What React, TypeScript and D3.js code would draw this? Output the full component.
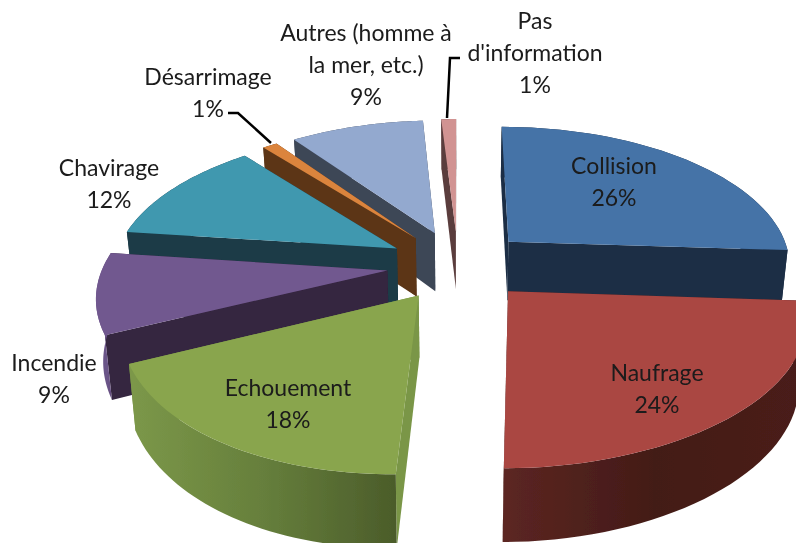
import React from "react";
import * as d3 from "d3";

const categories = ["Collision", "Naufrage", "Echouement", "Incendie", "Chavirage", "Désarrimage", "Autres (homme à la mer, etc.)", "Pas d'information"];
const values = [26, 24, 18, 9, 12, 1, 9, 1];
const topColors = ["#4573A7", "#AA4643", "#89A54E", "#71588F", "#4198AF", "#DB843D", "#93A9CF", "#D19392"];
const sideColors = ["#1C2E45", "#451D1A", "#7A9647", "#34253F", "#1A3A46", "#5B3618", "#3D4657", "#5A3C3C"];
const wallStops = [
  ["#1C2E45", "#1C2E45", "#1C2E45"],
  ["#5C2622", "#431B17", "#4A1E1A"],
  ["#7C9849", "#667F3C", "#4B5C2A"],
  ["#6B5488", "#6B5488", "#5A4674"],
  ["#1A3A46", "#1A3A46", "#1A3A46"],
  ["#5B3618", "#5B3618", "#5B3618"],
  ["#3D4657", "#3D4657", "#3D4657"],
  ["#5A3C3C", "#5A3C3C", "#5A3C3C"],
];
const paintOrder = [7, 6, 5, 4, 3, 2, 0, 1];
const labelLines = [
  ["Collision", "26%"],
  ["Naufrage", "24%"],
  ["Echouement", "18%"],
  ["Incendie", "9%"],
  ["Chavirage", "12%"],
  ["Désarrimage", "1%"],
  ["Autres (homme à", "la mer, etc.)", "9%"],
  ["Pas", "d'information", "1%"],
];
const labelAnchors = [[614, 165], [657, 372], [288, 387], [54, 362], [109, 167], [208, 76], [366, 32], [535, 20]];
const leaders = [
  [[228, 113], [238, 113], [271, 143]],
  [[460, 58], [450, 58], [447, 118]],
];

const W = 796, H = 543;
const X0 = 458, Y0 = 265, R = 284, A = 139.8, P = 0.158, DEPTH = 60, Z_SHRINK = 0.98, EXPLODE = 0.25, SHEAR = 0.00068, SHEAR_START = 60;
const FONT = "Lato, Carlito, sans-serif";

function project(wx: number, wy: number, low: boolean): [number, number] {
  const w = 1 - P * wy;
  const x = (R * wx) / w, y = (A * wy) / w;
  const skew = -SHEAR * Math.max(y - SHEAR_START, 0) ** 2;
  return low ? [X0 + x * Z_SHRINK + skew, Y0 + y + DEPTH / w] : [X0 + x + skew, Y0 + y];
}

const line = d3.line<[number, number]>();

export default function App() {
  const arcs = d3.pie<number>().sort(null).startAngle(0).endAngle(2 * Math.PI)(values);
  const slices = arcs.map((a, i) => {
    const mid = (a.startAngle + a.endAngle) / 2;
    const ox = EXPLODE * Math.sin(mid), oy = -EXPLODE * Math.cos(mid);
    const steps = d3.range(0, 41).map((k) => a.startAngle + ((a.endAngle - a.startAngle) * k) / 40);
    const rim = steps.map((t) => [ox + Math.sin(t), oy - Math.cos(t)]);
    const high = rim.map((p) => project(p[0], p[1], false));
    const low = rim.map((p) => project(p[0], p[1], true));
    const cHigh = project(ox, oy, false), cLow = project(ox, oy, true);
    const top = line([cHigh, ...high])! + "Z";
    const outer = line([...high, ...low.slice().reverse()])! + "Z";
    const rad1 = line([cHigh, high[0], low[0], cLow])! + "Z";
    const rad2 = line([cHigh, high[40], low[40], cLow])! + "Z";
    const rads = (rim[0][1] < rim[40][1] ? [rad1, rad2] : [rad2, rad1]);
    const xs = d3.extent(low.concat(high), (p) => p[0]) as [number, number];
    return { i, top, outer, rads, xs };
  });
  return (
    <svg width={W} height={H} viewBox={`0 0 ${W} ${H}`} style={{ position: "absolute", left: 0, top: 0, background: "#fff" }}>
      <defs>
        <filter id="soft" x="-5%" y="-5%" width="110%" height="110%">
          <feGaussianBlur stdDeviation="0.45" />
        </filter>
        {slices.map((s) => (
          <linearGradient key={s.i} id={`wall${s.i}`} gradientUnits="userSpaceOnUse" x1={s.xs[0]} x2={s.xs[1]} y1={0} y2={0}>
            {wallStops[s.i].map((c, k) => <stop key={k} offset={k / 2} stopColor={c} />)}
          </linearGradient>
        ))}
      </defs>
      <g filter="url(#soft)">
        {paintOrder.map((i) => {
          const s = slices[i];
          return (
            <g key={i} data-name={categories[i]}>
              {s.rads.map((d, k) => <path key={k} d={d} fill={sideColors[i]} />)}
              <path d={s.outer} fill={`url(#wall${i})`} />
              <path d={s.top} fill={topColors[i]} />
            </g>
          );
        })}
        {leaders.map((l, k) => (
          <path key={k} d={line(l as [number, number][])!} fill="none" stroke="#000" strokeWidth={2.5} />
        ))}
        {labelLines.map((lines, i) => (
          <g key={i}>
            {lines.map((t, k) => (
              <text key={k} x={labelAnchors[i][0]} y={labelAnchors[i][1] + k * 32} textAnchor="middle" dominantBaseline="central"
                fontFamily={FONT} fontSize={23} fill="#1a1a1a">{t}</text>
            ))}
          </g>
        ))}
      </g>
    </svg>
  );
}
